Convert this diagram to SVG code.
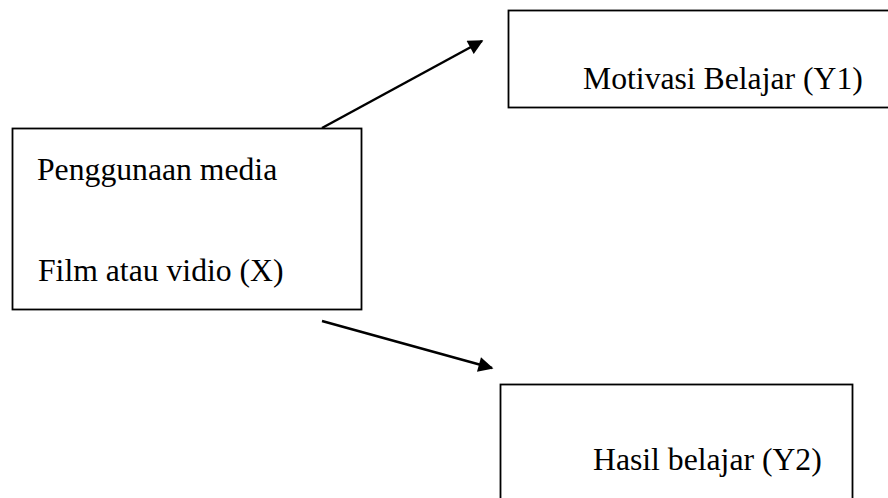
<svg xmlns="http://www.w3.org/2000/svg" width="888" height="498" viewBox="0 0 888 498">
<style>
.box{fill:#fff;stroke:#000;stroke-width:1.8}
.t{font-family:"Liberation Serif","Times New Roman",serif;font-size:31.7px;fill:#000}
.c{stroke:#000;stroke-width:2.5;fill:none}
</style>
<defs>
<marker id="ah" viewBox="0 0 10 10" refX="9" refY="5" markerWidth="7" markerHeight="6" markerUnits="strokeWidth" orient="auto">
<path d="M0,0 L10,5 L0,10 z" fill="#000"/>
</marker>
</defs>
<rect width="888" height="498" fill="#fff"/>
<g id="nodeX">
<rect class="box" x="12.5" y="128.5" width="349" height="181"/>
<text class="t" x="37" y="180">Penggunaan media</text>
<text class="t" x="38" y="281">Film atau vidio (X)</text>
</g>
<g id="nodeY1">
<rect class="box" x="508.5" y="10.5" width="390" height="97"/>
<text class="t" x="583" y="89">Motivasi Belajar (Y1)</text>
</g>
<g id="nodeY2">
<rect class="box" x="500.5" y="384.5" width="352" height="130"/>
<text class="t" x="593" y="470">Hasil belajar (Y2)</text>
</g>
<g id="connectors">
<line class="c" x1="322" y1="128" x2="482" y2="41" marker-end="url(#ah)"/>
<line class="c" x1="322" y1="321" x2="492" y2="368" marker-end="url(#ah)"/>
</g>
</svg>
